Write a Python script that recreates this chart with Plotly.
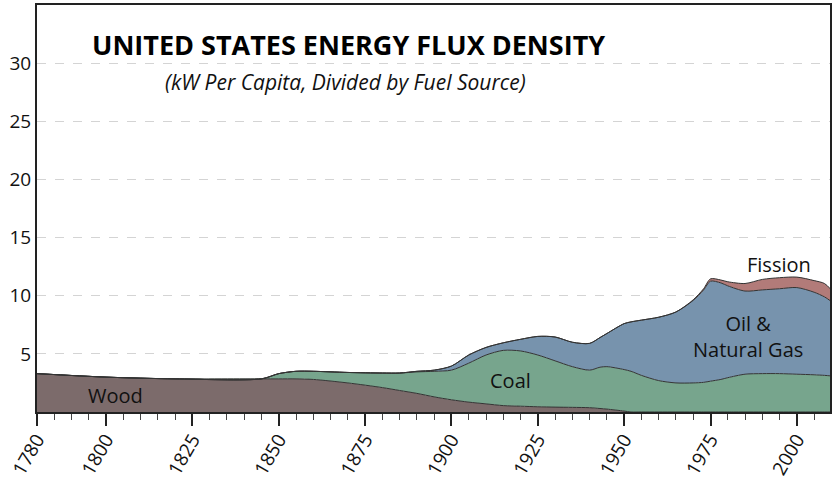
import plotly.graph_objects as go

years = [1780, 1800, 1820, 1845, 1850, 1855, 1860, 1870, 1880, 1885, 1890, 1895,
         1900, 1905, 1910, 1915, 1920, 1925, 1930, 1935, 1940, 1943, 1945, 1950,
         1952, 1955, 1960, 1965, 1970, 1973, 1975, 1978, 1980, 1985, 1990, 1995,
         2000, 2005, 2008, 2010]

wood = [3.3, 3.0, 2.85, 2.85, 2.85, 2.85, 2.8, 2.5, 2.1, 1.85, 1.6, 1.3,
        1.05, 0.85, 0.7, 0.55, 0.5, 0.45, 0.42, 0.4, 0.37, 0.3, 0.25, 0.08,
        0, 0, 0, 0, 0, 0, 0, 0, 0, 0, 0, 0,
        0, 0, 0, 0]

coal = [0, 0, 0, 0, 0.45, 0.65, 0.7, 0.9, 1.25, 1.5, 1.85, 2.2,
        2.55, 3.35, 4.2, 4.75, 4.75, 4.45, 3.98, 3.5, 3.23, 3.55, 3.65, 3.57,
        3.5, 3.15, 2.7, 2.5, 2.5, 2.55, 2.65, 2.8, 2.95, 3.25, 3.3, 3.3,
        3.25, 3.2, 3.15, 3.1]

oil_gas = [0, 0, 0, 0, 0, 0, 0, 0, 0, 0, 0.05, 0.1,
           0.35, 0.7, 0.65, 0.65, 1.0, 1.6, 2.05, 2.1, 2.3, 2.55, 2.85, 3.95,
           4.25, 4.75, 5.45, 6.1, 7.1, 7.95, 8.6, 8.3, 7.9, 7.15, 7.2, 7.3,
           7.45, 7.1, 6.75, 6.4]

fission = [0, 0, 0, 0, 0, 0, 0, 0, 0, 0, 0, 0,
           0, 0, 0, 0, 0, 0, 0, 0, 0, 0, 0, 0,
           0, 0, 0, 0, 0.05, 0.1, 0.2, 0.25, 0.35, 0.65, 0.9, 0.95,
           0.9, 1.0, 1.15, 1.0]

major_ticks = [1780, 1800, 1825, 1850, 1875, 1900, 1925, 1950, 1975, 2000]
y_ticks = [5, 10, 15, 20, 25, 30]

series = [
    ("Wood", wood, "#7c6b6b"),
    ("Coal", coal, "#77a58d"),
    ("Oil & Natural Gas", oil_gas, "#7793ad"),
    ("Fission", fission, "#b27b79"),
]

fig = go.Figure()
for name, vals, col in series:
    fig.add_trace(go.Scatter(
        x=years, y=vals, name=name, stackgroup="energy",
        mode="lines", line=dict(color="#333333", width=1, shape="spline", smoothing=0.8),
        fillcolor=col, hoverinfo="x+y+name",
    ))

font = "Open Sans"
lab_font = dict(family=font, size=20, color="#111")
fig.add_annotation(x=1802.6, y=1.4, text="Wood", showarrow=False, font=lab_font)
fig.add_annotation(x=1917, y=2.75, text="Coal", showarrow=False, font=lab_font)
fig.add_annotation(x=1985.8, y=6.5, text="Oil &<br>Natural Gas", showarrow=False,
                   font=lab_font)
fig.add_annotation(x=1994.8, y=12.7, text="Fission", showarrow=False, font=lab_font)

fig.add_annotation(xref="paper", yref="paper", x=0.067, y=0.904, xanchor="left",
                   yanchor="middle",
                   text="<b>UNITED STATES ENERGY FLUX DENSITY</b>", showarrow=False,
                   font=dict(family=font, size=27, color="#000"))
fig.add_annotation(xref="paper", yref="paper", x=0.159, y=0.811, xanchor="left",
                   yanchor="middle",
                   text="<i>(kW Per Capita, Divided by Fuel Source)</i>", showarrow=False,
                   font=dict(family=font, size=21, color="#111"))

fig.update_layout(
    width=835, height=480,
    margin=dict(l=37, r=5, t=5, b=68),
    plot_bgcolor="white", paper_bgcolor="white",
    showlegend=False,
    font=dict(family=font, size=19, color="#111"),
    xaxis=dict(
        range=[1780, 2009.6], tickmode="array", tickvals=major_ticks,
        tickangle=-60, ticks="outside", ticklen=12, tickwidth=2, tickcolor="#222",
        tickfont=dict(size=19), ticklabelstandoff=-5,
        showline=True, linecolor="#222", linewidth=2, mirror=True,
        showgrid=False, zeroline=False, automargin=False,
        minor=dict(tick0=1780, dtick=5, ticks="outside", ticklen=6,
                   tickwidth=1, tickcolor="#444", showgrid=False),
    ),
    yaxis=dict(
        range=[0, 35], tickmode="array", tickvals=y_ticks,
        tickfont=dict(size=19),
        showline=True, linecolor="#222", linewidth=2, mirror=True,
        showgrid=True, gridcolor="#d4d4d4", griddash="dash", gridwidth=1,
        zeroline=False, ticks="", automargin=False,
    ),
)

# page body has a default 8px margin; drop it so the figure sits at the corner
fig.write_html("out.html", config={"displayModeBar": False},
               post_script="document.body.style.margin='0';")
